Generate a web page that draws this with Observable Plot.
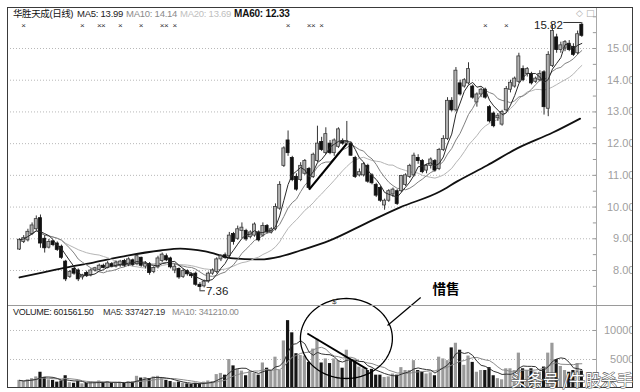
<!DOCTYPE html>
<html><head><meta charset="utf-8">
<script src="https://cdn.jsdelivr.net/npm/d3@7"></script>
<script src="https://cdn.jsdelivr.net/npm/@observablehq/plot@0.6"></script>
<style>
body{margin:0;background:#fff;}
#wrap{position:relative;width:640px;height:392px;overflow:hidden;background:#fff;font-family:"Liberation Sans",Arial,"Noto Sans CJK SC",sans-serif;}
#wrap svg{position:absolute;left:0;}
</style></head><body><div id="wrap"></div>
<script>
// ---------- data ----------
const opens  = [8.66,8.90,8.95,9.15,9.30,9.65,9.00,8.72,8.92,8.85,8.75,8.28,7.80,8.05,8.00,7.78,7.92,7.85,8.00,8.02,
8.15,8.08,8.20,8.12,8.15,8.30,8.18,8.32,8.20,8.40,8.12,8.20,7.95,8.10,8.30,8.45,8.38,8.00,8.05,7.80,
7.98,7.88,7.90,7.55,7.50,7.65,7.90,7.95,8.35,8.48,8.45,9.15,9.00,9.25,9.25,9.05,9.10,9.20,9.10,9.40,
9.20,9.30,9.95,11.30,12.10,11.55,10.95,10.85,11.05,11.20,10.95,11.45,12.05,11.70,12.00,11.70,11.90,12.05,12.00,12.00,
11.55,11.00,11.00,11.30,11.00,10.70,10.60,10.05,10.20,10.40,10.50,10.50,10.70,10.95,11.00,11.55,11.45,11.15,11.30,11.45,
11.20,11.80,12.15,13.35,13.05,13.90,13.80,13.90,13.80,13.30,13.55,13.70,13.15,12.95,12.80,12.60,13.05,13.70,13.80,13.95,
14.35,14.20,14.20,13.95,14.00,14.25,13.10,14.45,15.35,14.95,15.00,15.15,15.05,14.85,15.75];
const highs  = [9.00,9.10,9.30,9.50,9.72,9.75,9.10,8.98,8.95,8.90,8.80,8.32,8.00,8.10,8.05,7.88,7.98,8.05,8.10,8.20,
8.20,8.28,8.25,8.30,8.32,8.35,8.40,8.36,8.50,8.42,8.28,8.25,8.12,8.45,8.55,8.52,8.42,8.20,8.08,8.05,
8.02,7.92,7.95,7.62,7.70,7.95,8.05,8.40,8.50,8.55,9.20,9.20,9.40,9.50,9.30,9.25,9.50,9.25,9.50,9.45,
9.35,10.10,10.80,11.90,12.40,11.60,11.05,11.40,11.50,11.25,11.70,12.55,12.20,12.50,12.10,12.15,12.50,12.15,12.70,12.05,
11.60,11.20,11.40,11.35,11.05,10.75,10.65,10.25,10.55,10.60,10.55,11.00,11.05,11.35,11.70,11.65,11.50,11.35,11.55,11.50,
11.85,12.25,13.45,13.45,14.40,14.00,14.05,14.55,13.85,13.60,13.75,13.75,13.20,13.00,12.95,13.05,13.80,14.00,14.10,14.85,
14.45,14.40,14.25,14.10,14.30,14.30,14.90,15.75,15.45,15.20,15.25,15.25,15.15,15.55,15.82];
const lows   = [8.63,8.85,8.90,9.10,9.25,8.70,8.55,8.68,8.75,8.60,8.35,7.65,7.75,7.85,7.65,7.70,7.78,7.80,7.95,7.98,
8.05,8.05,8.08,8.08,8.10,8.10,8.12,8.12,8.15,8.10,8.05,7.85,7.90,8.05,8.25,8.28,8.05,7.90,7.72,7.75,
7.82,7.75,7.50,7.36,7.45,7.60,7.85,7.90,8.28,8.35,8.40,8.80,8.95,9.00,8.92,9.00,9.05,8.90,9.05,9.15,
9.15,9.25,9.90,11.25,11.60,10.80,10.50,10.80,11.00,10.55,10.90,11.40,11.75,11.65,11.65,11.60,11.85,11.95,11.95,11.60,
10.90,10.95,10.95,10.75,10.70,10.30,10.15,9.90,10.15,10.30,10.05,10.45,10.65,10.90,10.95,11.35,11.05,11.05,11.20,11.10,
11.15,11.75,12.10,13.00,13.00,13.50,13.75,13.85,13.40,13.15,13.45,13.40,12.65,12.50,12.70,12.55,13.00,13.60,13.75,13.90,
13.95,14.10,13.85,13.90,13.95,12.90,12.85,14.40,14.85,14.85,14.90,14.90,14.75,14.80,15.35];
const closes = [8.97,9.02,9.22,9.42,9.62,8.85,8.70,8.90,8.80,8.65,8.40,7.72,7.95,7.90,7.72,7.85,7.82,8.00,8.07,8.15,
8.08,8.22,8.12,8.25,8.28,8.15,8.35,8.18,8.45,8.15,8.20,7.92,8.08,8.38,8.50,8.32,8.10,8.12,7.78,7.98,
7.88,7.82,7.55,7.48,7.65,7.90,8.00,8.35,8.45,8.40,9.10,8.90,9.30,9.35,8.98,9.20,9.45,8.95,9.40,9.20,
9.30,10.00,10.70,11.85,11.70,10.85,10.55,11.30,11.45,10.60,11.65,12.00,11.80,12.30,11.70,12.10,12.45,12.00,12.08,11.62,
10.95,11.10,11.35,10.80,10.75,10.36,10.20,10.20,10.50,10.55,10.10,10.98,11.00,11.30,11.62,11.45,11.10,11.30,11.50,11.15,
11.80,12.15,13.35,13.05,14.30,13.55,14.00,14.35,13.45,13.55,13.70,13.45,12.70,12.55,12.88,13.00,13.72,13.92,14.05,14.75,
14.00,14.35,13.90,14.05,14.20,13.15,14.80,15.55,14.95,15.10,15.20,14.95,14.80,15.45,15.40];
const volumes = [1400,1200,1500,1700,2000,2800,1900,1500,1400,1100,1300,2200,1000,900,1200,800,900,1100,1000,1300,
1000,1200,900,1000,1100,900,1200,1100,2100,1800,1900,1700,2000,2100,1800,1400,1200,1000,1100,900,
800,700,900,800,1100,1300,1200,2400,2600,2300,5000,3900,3300,3000,2200,2900,2600,2300,4400,3500,
3000,5400,3100,8200,11700,9600,6000,5700,5600,4500,6800,8500,4400,5100,4300,5100,4800,3500,6600,4800,
4700,3700,3400,3100,3300,2300,2300,1900,2000,2500,2300,3600,3100,3100,4800,3100,2800,2500,2700,2200,
5400,5100,4800,7000,7800,6600,4000,5600,4500,2800,3100,3100,3600,2200,1700,1500,3400,3400,3100,6100,
3400,3100,3400,2800,2800,3700,6100,7800,5000,3800,3100,2800,3100,4300,3000];
// MA60 (candle index, price)
const ma60Idx = [0,5.7,11,17.6,25.7,33.6,38.3,44.3,51,57.4,62.1,66.9,74,82.9,90.7,100.2,104.3,111.4,118.6,127.1,133.6];
const ma60Val = [7.78,7.94,8.09,8.25,8.47,8.63,8.69,8.60,8.38,8.35,8.44,8.63,8.95,9.51,9.99,10.49,10.81,11.31,11.85,12.35,12.79];
const priceTicks = [8,9,10,11,12,13,14,15];
const volTicks = [5000,10000];
const markerIdx = [1,15,19,20,24,29,34,35,37,64,69,70,72,111,116];
const dollarIdx = [75];
// hand-drawn annotations (data units)
const trendCandles = [69,78];                 // price trend line: low of first -> open of last
const volTrend = [[68.6,9480],[82.9,3300]];   // line over volume bars
const ellipse = {cx:77.9, cy:8620, rx:10.96, ry:6900};
const leader = [[87.7,10860],[95.6,15690]];
const noteLabel = {x:98.4, y:17070, text:"惜售"};

const N = closes.length;
const candles = d3.range(N).map(i => ({i, open:opens[i], high:highs[i], low:lows[i], close:closes[i], vol:volumes[i], up: closes[i] >= opens[i]}));
const upC = candles.filter(d => d.up), dnC = candles.filter(d => !d.up);
const ma60 = ma60Idx.map((x,k) => ({x, y: ma60Val[k]}));
const xDomain = [-2.86, 137.5];
const xMax = xDomain[1];
const hiIdx = d3.maxIndex(highs), loIdx = d3.minIndex(lows);
const minorPrice = d3.range(7.5, 16.01, 0.5);

const wrap = document.getElementById("wrap");
const font = "Liberation Sans, Arial, sans-serif";

const pricePlot = Plot.plot({
  width: 640, height: 305, marginLeft: 7, marginRight: 44, marginTop: 7, marginBottom: 0,
  x: {domain: xDomain, axis: null},
  y: {domain: [6.896, 16.293], axis: null},
  style: {background: "transparent", overflow: "visible", fontFamily: font},
  marks: [
    Plot.gridY(priceTicks, {stroke: "#b8b8b8", strokeOpacity: 1, strokeDasharray: "1,2"}),
    Plot.ruleY(minorPrice, {x1: xMax - 0.75, x2: xMax, stroke: "#999"}),
    Plot.text(priceTicks, {y: d => d, frameAnchor: "right", textAnchor: "end", dx: 38, text: d => d.toFixed(2), fontSize: 11, fill: "#a0a0a0"}),
    Plot.line(ma60, {x: "x", y: "y", curve: "monotone-x", stroke: "#111", strokeWidth: 1.8}),
    Plot.lineY(candles, Plot.windowY({k: 20, anchor: "end", reduce: "mean"}, {x: "i", y: "close", stroke: "#b5b5b5", strokeWidth: 1})),
    Plot.lineY(candles, Plot.windowY({k: 10, anchor: "end", reduce: "mean"}, {x: "i", y: "close", stroke: "#808080", strokeWidth: 1})),
    Plot.ruleX(candles, {x: "i", y1: "low", y2: "high", stroke: "#333", strokeWidth: 1}),
    Plot.rect(upC, {x1: d => d.i - 0.36, x2: d => d.i + 0.36, y1: "open", y2: "close", fill: "#b2b2b2", stroke: "#3a3a3a", strokeWidth: 0.8}),
    Plot.rect(dnC, {x1: d => d.i - 0.36, x2: d => d.i + 0.36, y1: "open", y2: "close", fill: "#111", stroke: "#111", strokeWidth: 0.8}),
    Plot.lineY(candles, Plot.windowY({k: 5, anchor: "end", reduce: "mean"}, {x: "i", y: "close", stroke: "#2a2a2a", strokeWidth: 1})),
    Plot.link([trendCandles], {x1: d => d[0], y1: d => lows[d[0]], x2: d => d[1], y2: d => opens[d[1]], stroke: "#000", strokeWidth: 2.2}),
    Plot.text(markerIdx, {x: d => d, frameAnchor: "top", dy: 15, text: () => "×", fontSize: 8, fill: "#333"}),
    Plot.ruleY([hiIdx], {y: d => highs[d], x1: d => d - 4.3, x2: d => d, stroke: "#333"}),
    Plot.text([hiIdx], {x: d => d, y: d => highs[d], text: d => highs[d].toFixed(2), textAnchor: "end", dx: -19, dy: 3, fontSize: 11.5, fill: "#222"}),
    Plot.ruleY([loIdx], {y: d => lows[d], x1: d => d, x2: d => d + 1.3, stroke: "#333"}),
    Plot.text([loIdx], {x: d => d, y: d => lows[d], text: d => lows[d].toFixed(2), textAnchor: "start", dx: 6, dy: 1, fontSize: 11.5, fill: "#222"})
  ]
});
pricePlot.style.top = "0px";
wrap.appendChild(pricePlot);

const ellPts = d3.range(0, 97).map(k => { const t = k / 96 * 2 * Math.PI; return {x: ellipse.cx + ellipse.rx * Math.cos(t), y: ellipse.cy + ellipse.ry * Math.sin(t)}; });

const volPlot = Plot.plot({
  width: 640, height: 114, marginLeft: 7, marginRight: 44, marginTop: 27, marginBottom: 4,
  x: {domain: xDomain, axis: null},
  y: {domain: [0, 14310], axis: null},
  style: {background: "transparent", overflow: "visible", fontFamily: font},
  marks: [
    Plot.gridY(volTicks, {stroke: "#b8b8b8", strokeOpacity: 1, strokeDasharray: "1,2"}),
    Plot.ruleY(volTicks, {x1: xMax - 0.75, x2: xMax, stroke: "#999"}),
    Plot.text(volTicks, {y: d => d, frameAnchor: "right", textAnchor: "end", dx: 38, text: d => String(d), fontSize: 11, fill: "#a0a0a0"}),
    Plot.rectY(upC, {x1: d => d.i - 0.38, x2: d => d.i + 0.38, y: "vol", fill: "#9a9a9a"}),
    Plot.rectY(dnC, {x1: d => d.i - 0.38, x2: d => d.i + 0.38, y: "vol", fill: "#151515"}),
    Plot.lineY(candles, Plot.windowY({k: 10, anchor: "end", reduce: "mean"}, {x: "i", y: "vol", stroke: "#8a8a8a", strokeWidth: 1})),
    Plot.lineY(candles, Plot.windowY({k: 5, anchor: "end", reduce: "mean"}, {x: "i", y: "vol", stroke: "#333", strokeWidth: 1})),
    Plot.link([volTrend], {x1: d => d[0][0], y1: d => d[0][1], x2: d => d[1][0], y2: d => d[1][1], stroke: "#000", strokeWidth: 1.8}),
    Plot.line(ellPts, {x: "x", y: "y", stroke: "#000", strokeWidth: 1.3}),
    Plot.link([leader], {x1: d => d[0][0], y1: d => d[0][1], x2: d => d[1][0], y2: d => d[1][1], stroke: "#000", strokeWidth: 1.2}),
    Plot.text([noteLabel], {x: "x", y: "y", text: "text", textAnchor: "start", fontSize: 13.5, fontWeight: "bold", fill: "#000", fontFamily: "Noto Sans CJK SC, sans-serif"}),
    Plot.text(dollarIdx, {x: d => d, frameAnchor: "top", dy: -7, text: () => "$", fontSize: 8, fill: "#333"})
  ]
});
volPlot.style.top = "278px";
wrap.appendChild(volPlot);

// frame, headers, watermark
const ns = "http://www.w3.org/2000/svg";
const ov = document.createElementNS(ns, "svg");
ov.setAttribute("width", 640); ov.setAttribute("height", 392);
ov.style.top = "0px"; ov.style.pointerEvents = "none";
function el(tag, attrs, txt) { const e = document.createElementNS(ns, tag); for (const k in attrs) e.setAttribute(k, attrs[k]); if (txt != null) e.textContent = txt; ov.appendChild(e); return e; }
el("rect", {x: 632.5, y: 0, width: 8, height: 392, fill: "#fff"});
el("line", {x1: 596.5, y1: 7.5, x2: 596.5, y2: 387.5, stroke: "#a8a8a8"});
el("line", {x1: 7.5, y1: 305.5, x2: 632.5, y2: 305.5, stroke: "#9a9a9a"});
el("rect", {x: 7.5, y: 7.5, width: 625, height: 380, fill: "none", stroke: "#3a3a3a"});
const cjk = "Liberation Sans, Arial, Noto Sans CJK SC, sans-serif";
const hdr = [
  ["华胜天成(日线)", 13, "#111", "normal", 9.5, -0.4],
  ["MA5: 13.99", 77, "#222", "normal", 9.5, -0.25],
  ["MA10: 14.14", 126, "#8a8a8a", "normal", 9.5, -0.25],
  ["MA20: 13.69", 180, "#c0c0c0", "normal", 9.5, -0.25],
  ["MA60: 12.33", 234, "#111", "bold", 10, -0.2]
];
hdr.forEach(([t, x, c, fw, fs, ls]) => el("text", {x, y: 17, "font-size": fs, "font-family": cjk, fill: c, "font-weight": fw, "letter-spacing": ls}, t));
const vh = [
  ["VOLUME: 601561.50", 13, "#222"],
  ["MA5: 337427.19", 103, "#333"],
  ["MA10: 341210.00", 172, "#8a8a8a"]
];
vh.forEach(([t, x, c]) => el("text", {x, y: 315, "font-size": 9, "font-family": cjk, fill: c, "letter-spacing": -0.3}, t));
el("text", {x: 576, y: 16, "font-size": 9, fill: "#aaa", "font-family": "DejaVu Sans"}, "◇");
el("text", {x: 586, y: 16, "font-size": 9, fill: "#aaa", "font-family": "DejaVu Sans"}, "□");
el("text", {x: 511, y: 386, "font-size": 16, "font-family": "Noto Sans CJK SC, sans-serif", fill: "#fff", stroke: "#555", "stroke-width": 1.1, "paint-order": "stroke", textLength: 122, lengthAdjust: "spacingAndGlyphs"}, "头条号 /牛股杀手");
wrap.appendChild(ov);
</script>
</body></html>
